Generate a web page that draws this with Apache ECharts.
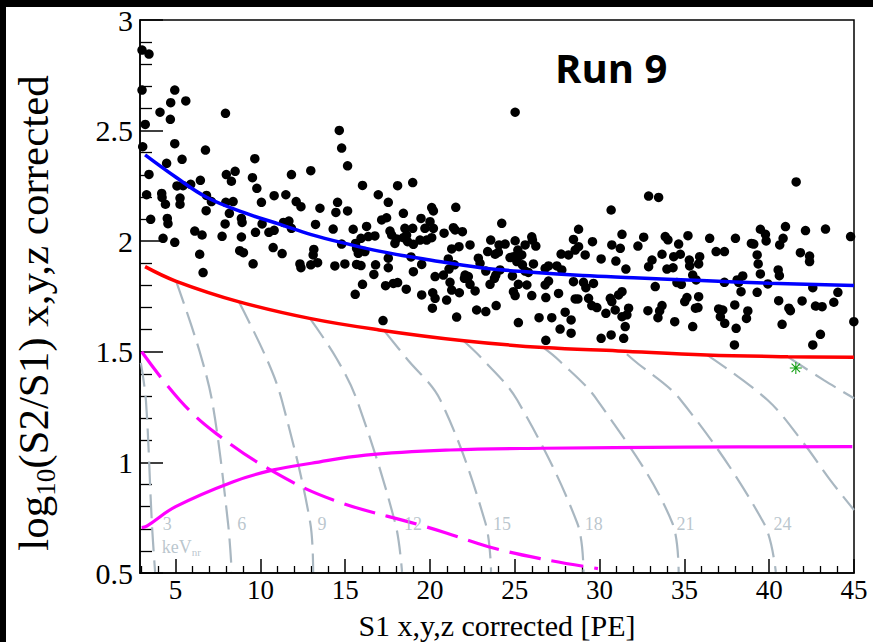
<!DOCTYPE html>
<html>
<head>
<meta charset="utf-8">
<script src="https://cdn.jsdelivr.net/npm/echarts@6/dist/echarts.min.js"></script>
<style>
html,body{margin:0;padding:0;background:#fff;}
#wrap{position:relative;width:873px;height:642px;background:#fff;overflow:hidden;}
#chart{position:absolute;left:0;top:0;width:873px;height:642px;}
.band{position:absolute;background:#000;}
</style>
</head>
<body>
<div id="wrap">
<div id="chart"></div>
<div class="band" style="left:0;top:0;width:873px;height:7px;"></div>
<div class="band" style="left:0;top:0;width:6px;height:642px;"></div>
</div>
<script>
// ---- axis ticks ----
const xMajorTicks = [5, 10, 15, 20, 25, 30, 35, 40, 45];
const xMinorTicks = [3,4,6,7,8,9,11,12,13,14,16,17,18,19,21,22,23,24,26,27,28,29,31,32,33,34,36,37,38,39,41,42,43,44];
const yMinorTicks = [0.6,0.7,0.8,0.9,1.1,1.2,1.3,1.4,1.6,1.7,1.8,1.9,2.1,2.2,2.3,2.4,2.6,2.7,2.8,2.9];

// ---- fitted bands ----
const blueMean = [[3.2,2.39],[5,2.29],[6.8,2.20],[9,2.13],[11.2,2.075],[13,2.03],[15,1.99],[17,1.955],[20,1.915],[23,1.88],[26,1.86],[29,1.845],[32,1.835],[36,1.822],[40,1.81],[45,1.80]];
const redLine = [[3.2,1.885],[5,1.82],[8.7,1.727],[12.9,1.651],[17,1.599],[22,1.55],[26.7,1.519],[31.1,1.504],[36.3,1.486],[41.1,1.478],[45,1.475]];
const magentaDashed = [[3.0,1.5],[5.26,1.28],[7.4,1.13],[10.77,0.958],[14.3,0.83],[19.4,0.717],[21.0,0.68],[23.4,0.62],[26.5,0.565],[29.9,0.52]];
const magentaSolid = [[3.0,0.705],[3.3,0.712],[5,0.80],[8.4,0.913],[10.77,0.966],[13,0.996],[16.2,1.033],[21.2,1.056],[26.7,1.064],[35,1.069],[44.9,1.071]];

// ---- energy contours (keVnr) ----
const contour3  = [[2.95,1.45],[3.25,1.28],[3.6,0.726],[3.79,0.505]];
const contour6  = [[5.03,1.82],[6.42,1.50],[7.21,1.252],[8.09,0.726],[8.31,0.505]];
const contour9  = [[8.74,1.725],[10.36,1.47],[11.26,1.282],[12.94,0.726],[13.11,0.505]];
const contour12 = [[12.92,1.651],[14.49,1.47],[15.69,1.282],[17.95,0.726],[18.35,0.505]];
const contour15 = [[17.34,1.591],[18.62,1.47],[20.61,1.282],[23.27,0.726],[23.6,0.505]];
const contour18 = [[21.97,1.55],[23.15,1.463],[25.14,1.282],[28.68,0.726],[29.05,0.505]];
const contour21 = [[26.69,1.519],[27.58,1.463],[29.86,1.282],[34.29,0.726],[34.66,0.505]];
const contour24 = [[31.61,1.489],[32.0,1.463],[34.78,1.282],[39.68,0.726],[40.39,0.505]];
const contour27 = [[36.33,1.486],[39.9,1.282],[42.0,1.09],[43.6,0.92],[45.0,0.785]];
const contour30 = [[41.08,1.478],[43.22,1.372],[45.0,1.29]];
const contourLabels = [[4.5,0.723,'3'],[8.9,0.723,'6'],[13.63,0.723,'9'],[19.0,0.723,'12'],[24.25,0.723,'15'],[29.66,0.723,'18'],[35.07,0.723,'21'],[40.78,0.723,'24']];
const unitLabel = [[4.18,0.619]];

// ---- special event ----
const greenEvent = [[41.57,1.427]];

// ---- events ----
const events = [
[3.02,2.864],[3.43,2.846],[3.02,2.683],[4.95,2.683],[4.71,2.626],[5.60,2.634],[4.08,2.583],[4.69,2.551],[3.21,2.528],[7.94,2.578],
[3.06,2.427],[4.95,2.441],[6.76,2.412],[5.38,2.370],[4.47,2.352],[3.43,2.302],[9.67,2.373],[14.65,2.501],[14.79,2.421],[15.14,2.341],
[6.46,2.275],[5.89,2.257],[5.08,2.250],[5.44,2.251],[7.99,2.301],[8.51,2.316],[8.29,2.271],[9.53,2.287],[9.79,2.239],[11.83,2.301],
[12.97,2.319],[16.02,2.252],[3.29,2.210],[4.18,2.216],[4.20,2.198],[5.26,2.195],[6.82,2.207],[10.81,2.206],[11.50,2.210],[16.95,2.21],
[4.40,2.167],[5.26,2.167],[7.11,2.179],[6.80,2.138],[7.96,2.176],[8.39,2.179],[8.17,2.126],[10.06,2.176],[12.11,2.179],[12.39,2.156],
[13.51,2.149],[14.55,2.176],[14.45,2.130],[15.14,2.137],[3.53,2.099],[4.51,2.103],[4.55,2.079],[6.13,2.046],[6.56,2.028],[4.26,2.013],
[4.95,1.995],[7.92,2.078],[7.74,2.022],[8.88,2.103],[8.92,2.085],[8.88,2.019],[9.71,2.040],[10.10,2.078],[10.50,2.040],[10.81,2.049],
[11.36,2.085],[11.68,2.091],[11.83,2.058],[10.75,1.971],[11.28,1.944],[8.78,1.957],[9.00,1.948],[6.42,1.941],[6.62,1.858],[9.57,1.898],
[13.25,2.076],[14.29,2.055],[15.47,2.054],[16.26,2.067],[14.79,1.987],[15.61,1.990],[15.93,2.013],[16.36,2.021],[16.75,2.024],[15.67,1.968],
[16.16,1.953],[15.77,1.945],[13.15,1.963],[13.11,1.938],[12.33,1.897],[12.39,1.880],[12.97,1.893],[13.37,1.903],[14.39,1.888],[14.98,1.897],
[15.67,1.895],[15.93,1.890],[16.79,1.893],[16.69,1.850],[16.02,1.805],[15.59,1.760],
[25.02,2.583],[18.09,2.251],[18.98,2.265],[41.59,2.268],[32.89,2.204],[33.48,2.198],
[17.54,2.176],[17.15,2.096],[17.44,2.106],[18.43,2.126],[20.10,2.152],[20.20,2.137],[21.52,2.153],[19.47,2.103],[20.00,2.088],[18.98,2.058],
[18.52,2.058],[19.70,2.058],[20.20,2.058],[21.38,2.061],[21.48,2.051],[21.91,2.043],[20.83,2.036],[17.64,2.046],[17.74,2.028],[18.03,2.010],
[17.93,1.990],[18.43,2.016],[18.62,2.028],[18.68,1.998],[19.02,1.986],[19.41,2.005],[19.80,2.005],[20.10,2.016],[22.36,1.983],[21.71,1.975],
[21.28,1.965],[24.23,2.081],[23.58,2.005],[24.07,1.983],[24.43,1.987],[25.02,2.002],[25.18,1.960],[25.61,1.983],[26.00,2.020],[26.04,2.005],
[26.24,1.978],[23.40,1.953],[23.84,1.941],[24.03,1.950],[22.85,1.923],[22.95,1.900],[24.72,1.926],[24.92,1.930],[25.21,1.930],[25.41,1.938],
[25.12,1.908],[25.45,1.893],[25.61,1.865],[25.80,1.859],[26.10,1.897],[26.79,1.877],[26.99,1.888],[27.48,1.888],[27.77,1.870],[27.73,1.942],
[28.17,1.938],[28.56,1.960],[28.76,1.975],[28.46,2.008],[28.76,2.054],[29.58,1.998],[29.15,1.938],[30.09,1.920],[30.68,2.141],[30.72,1.983],
[30.96,1.910],[17.54,1.923],[17.54,1.880],[18.88,1.929],[19.51,1.895],[19.02,1.862],[21.08,1.920],[21.12,1.874],[21.44,1.893],[20.79,1.847],
[20.30,1.840],[22.07,1.847],[22.26,1.840],[22.03,1.832],[22.36,1.805],[23.29,1.865],[23.88,1.847],[24.13,1.870],[23.80,1.832],[24.86,1.843],
[17.38,1.799],[17.84,1.809],[18.09,1.813],[18.60,1.783],[21.18,1.814],[21.28,1.779],[21.73,1.767],[22.66,1.775],[23.54,1.805],[25.21,1.805],
[25.71,1.802],[26.79,1.802],[26.99,1.820],[19.51,1.757],[20.16,1.767],[20.30,1.742],[20.98,1.734],[20.14,1.697],[22.75,1.689],[23.29,1.682],
[23.90,1.709],[24.92,1.772],[25.02,1.754],[26.00,1.754],[26.83,1.745],[27.58,1.764],[28.46,1.817],[29.05,1.814],[29.19,1.790],[29.64,1.809],
[28.56,1.739],[28.72,1.739],[29.35,1.742],[29.54,1.709],[29.84,1.700],[30.63,1.742],[30.72,1.727],[30.92,1.689],[30.37,1.674],[27.97,1.679],
[28.32,1.644],[27.18,1.654],[26.43,1.654],[27.67,1.603],[28.32,1.584],[30.68,1.576],[30.09,1.561],[26.83,1.552],[25.21,1.632],[21.57,1.657],
[17.23,1.641],
[31.32,2.031],[31.22,1.968],[32.60,2.018],[32.26,1.978],[33.87,2.021],[34.03,2.006],[34.66,1.987],[35.21,2.025],[33.68,1.941],[33.09,1.915],
[32.89,1.885],[31.55,1.874],[34.37,1.930],[34.76,1.941],[35.29,1.915],[35.31,1.888],[35.84,1.897],[35.90,1.930],[33.97,1.874],[34.33,1.880],
[35.49,1.847],[35.69,1.825],[34.56,1.813],[34.82,1.805],[33.28,1.795],[36.49,2.013],[36.87,1.953],[37.36,1.953],[38.01,2.013],[38.95,1.990],
[39.09,1.987],[39.48,2.054],[39.78,2.031],[39.82,2.001],[40.96,2.066],[40.82,2.013],[40.62,1.983],[42.14,2.048],[43.32,2.055],[44.80,2.021],
[41.84,1.948],[42.38,1.933],[42.38,1.908],[39.29,1.938],[39.35,1.897],[39.48,1.852],[40.53,1.870],[40.60,1.844],[38.11,1.825],[38.44,1.843],
[38.20,1.814],[37.36,1.814],[39.92,1.807],[42.57,1.790],[31.32,1.772],[31.12,1.757],[35.15,1.745],[35.02,1.727],[35.84,1.749],[35.80,1.700],
[35.65,1.697],[33.68,1.709],[33.54,1.685],[32.85,1.686],[31.71,1.697],[31.61,1.667],[31.32,1.659],[33.44,1.654],[34.43,1.636],[35.49,1.614],
[31.51,1.614],[31.42,1.561],[37.02,1.694],[37.26,1.689],[37.12,1.659],[37.38,1.629],[37.97,1.712],[38.74,1.685],[38.66,1.651],[38.05,1.606],
[37.95,1.531],[38.34,1.772],[39.29,1.769],[40.56,1.731],[41.16,1.697],[41.25,1.686],[40.76,1.624],[41.94,1.730],[42.73,1.707],[43.12,1.704],
[43.81,1.724],[44.05,1.769],[43.02,1.579],[42.57,1.531],[44.99,1.636]
];

const SERIF = '"Liberation Serif", "DejaVu Serif", serif';
const GREY = '#a9b7c1';

const chart = echarts.init(document.getElementById('chart'), null, {renderer: 'svg'});

function contourSeries(data) {
  return {
    type: 'line', data: data, smooth: 0.35, symbol: 'none', silent: true,
    lineStyle: {color: GREY, width: 2.2, type: [24, 9]}, z: 2
  };
}

const asterisk = 'path://M-0.9,-10 L0.9,-10 L0.9,10 L-0.9,10 Z M-10,-0.9 L10,-0.9 L10,0.9 L-10,0.9 Z M-7.7,-6.4 L-6.4,-7.7 L7.7,6.4 L6.4,7.7 Z M6.4,-7.7 L7.7,-6.4 L-6.4,7.7 L-7.7,6.4 Z';

chart.setOption({
  animation: false,
  backgroundColor: 'transparent',
  grid: {left: 140, right: 19, top: 20, bottom: 69, show: true, borderColor: '#000', borderWidth: 1.5, backgroundColor: 'transparent'},
  xAxis: [{
    type: 'value', min: 2.9, max: 45, position: 'bottom',
    axisLine: {show: true, onZero: false, lineStyle: {color: '#000', width: 1.5}},
    axisTick: {show: true, inside: true, length: 14, customValues: xMajorTicks, lineStyle: {color: '#000', width: 1.5}},
    axisLabel: {customValues: xMajorTicks, color: '#000', fontFamily: SERIF, fontSize: 27, lineHeight: 24, margin: 5},
    splitLine: {show: false}
  }, {
    type: 'value', min: 2.9, max: 45, position: 'bottom',
    axisLine: {show: false},
    axisTick: {show: true, inside: true, length: 7, customValues: xMinorTicks, lineStyle: {color: '#000', width: 1.3}},
    axisLabel: {show: false},
    splitLine: {show: false}
  }],
  yAxis: [{
    type: 'value', min: 0.5, max: 3, interval: 0.5, position: 'left',
    axisLine: {show: true, onZero: false, lineStyle: {color: '#000', width: 1.5}},
    axisTick: {show: true, inside: true, length: 23, lineStyle: {color: '#000', width: 1.5}},
    axisLabel: {color: '#000', fontFamily: SERIF, fontSize: 30, margin: 7, formatter: v => String(v)},
    splitLine: {show: false}
  }, {
    type: 'value', min: 0.5, max: 3, position: 'left',
    axisLine: {show: false},
    axisTick: {show: true, inside: true, length: 12, customValues: yMinorTicks, lineStyle: {color: '#000', width: 1.3}},
    axisLabel: {show: false},
    splitLine: {show: false}
  }],
  series: [
    contourSeries(contour3), contourSeries(contour6), contourSeries(contour9), contourSeries(contour12),
    contourSeries(contour15), contourSeries(contour18), contourSeries(contour21), contourSeries(contour24),
    contourSeries(contour27), contourSeries(contour30),
    {type: 'line', data: magentaDashed, smooth: 0.4, symbol: 'none', lineStyle: {color: '#ff00ff', width: 3.2, type: [32, 11]}, z: 3},
    {type: 'line', data: magentaSolid, smooth: 0.4, symbol: 'none', lineStyle: {color: '#ff00ff', width: 3.2}, z: 3},
    {type: 'line', data: redLine, smooth: 0.4, symbol: 'none', lineStyle: {color: '#ff0000', width: 3.5}, z: 3},
    {type: 'scatter', data: events, symbol: 'circle', symbolSize: 9.5, itemStyle: {color: '#000', opacity: 1}, z: 4},
    {type: 'line', data: blueMean, smooth: 0.4, symbol: 'none', lineStyle: {color: '#0000ff', width: 3.5}, z: 5},
    {type: 'scatter', data: greenEvent, symbol: asterisk, symbolSize: 12, itemStyle: {color: '#14a014', opacity: 1}, z: 6},
    {type: 'scatter', data: contourLabels, symbolSize: 0, silent: true, z: 6,
      label: {show: true, position: 'inside', formatter: p => p.data[2], color: GREY, fontFamily: SERIF, fontSize: 18}},
    {type: 'scatter', data: unitLabel, symbolSize: 0, silent: true, z: 6,
      label: {show: true, position: 'right', distance: 0, formatter: '{a|keV}{s|nr}', color: GREY,
        rich: {a: {fontFamily: SERIF, fontSize: 18, color: GREY, lineHeight: 22},
               s: {fontFamily: SERIF, fontSize: 11, color: GREY, verticalAlign: 'bottom', lineHeight: 14}}}}
  ],
  graphic: [
    {type: 'text', x: 555, y: 67, style: {text: 'Run 9', fill: '#000', font: 'bold 40px "Open Sans", sans-serif', align: 'left', verticalAlign: 'middle'}, z: 10},
    {type: 'text', x: 497, y: 625, style: {text: 'S1 x,y,z corrected [PE]', fill: '#000', font: '30px "Liberation Serif", serif', lineHeight: 30, align: 'center', verticalAlign: 'middle'}, z: 10},
    {type: 'text', x: 33, y: 313, rotation: Math.PI / 2,
      style: {text: '{n|log}{s|10}{n|(S2/S1) x,y,z corrected}', fill: '#000', align: 'center', verticalAlign: 'middle',
        rich: {n: {fontFamily: SERIF, fontSize: 43, lineHeight: 52, fill: '#000'},
               s: {fontFamily: SERIF, fontSize: 27, lineHeight: 30, verticalAlign: 'bottom', fill: '#000'}}}, z: 10}
  ]
});
</script>
</body>
</html>
